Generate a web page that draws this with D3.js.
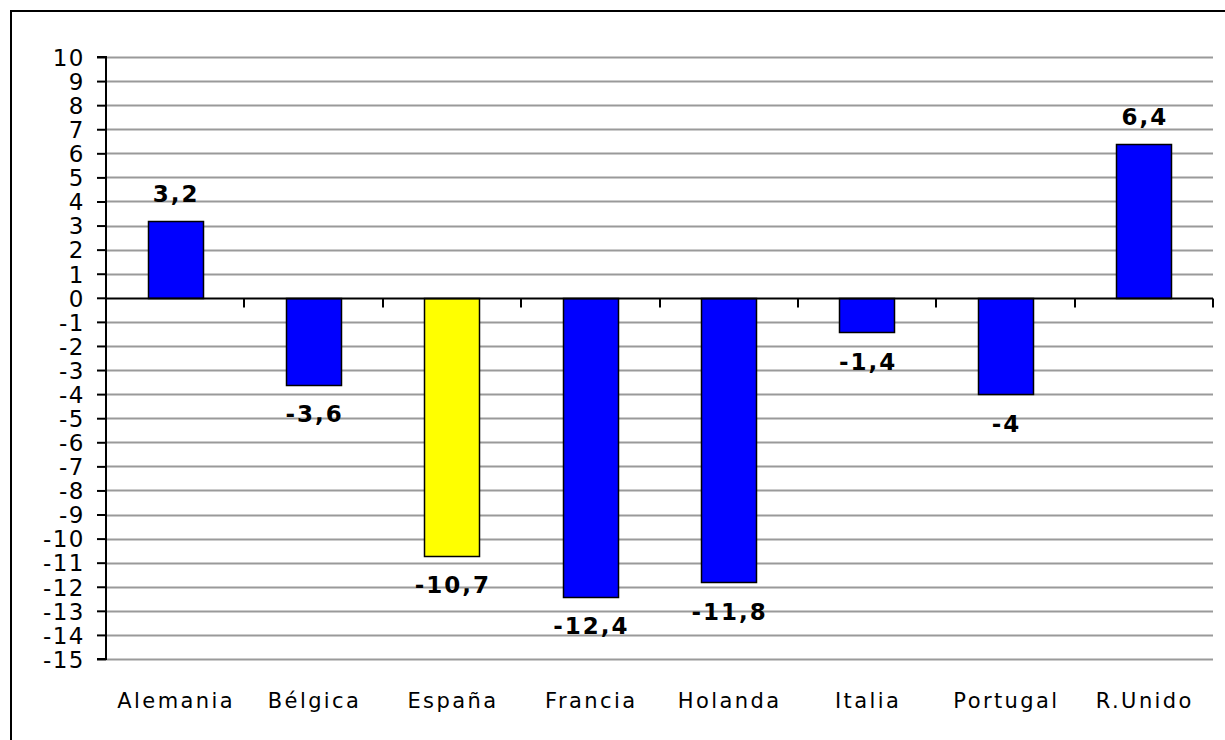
<!DOCTYPE html>
<html>
<head>
<meta charset="utf-8">
<script src="https://cdn.jsdelivr.net/npm/d3@7"></script>
<style>
  html, body { margin: 0; padding: 0; background: #fff; }
  svg { display: block; }
</style>
</head>
<body>
<svg id="chart" width="1225" height="740"></svg>
<script>
const categories = ["Alemania", "Bélgica", "España", "Francia", "Holanda", "Italia", "Portugal", "R.Unido"];
const values = [3.2, -3.6, -10.7, -12.4, -11.8, -1.4, -4, 6.4];
const barColors = ["#0000FF", "#0000FF", "#FFFF00", "#0000FF", "#0000FF", "#0000FF", "#0000FF", "#0000FF"];
const yTicks = d3.range(-15, 11, 1);

const svg = d3.select("#chart");
const W = 1225, H = 740;
const plot = { left: 106, right: 1213, top: 57, bottom: 659 };

// outer frame (only top/left visible in reference)
svg.append("rect")
  .attr("x", 11).attr("y", 11)
  .attr("width", W + 20).attr("height", H + 20)
  .attr("fill", "#fff").attr("stroke", "#000").attr("stroke-width", 2);

const x = d3.scaleBand().domain(categories).range([plot.left, plot.right]).paddingInner(0.6).paddingOuter(0.3);
const xOuter = d3.scaleBand().domain(categories).range([plot.left, plot.right]).padding(0);
const y = d3.scaleLinear().domain([-15, 10]).range([plot.bottom, plot.top]);

// gridlines
svg.append("g").selectAll("line").data(yTicks.filter(d => d !== 0)).join("line")
  .attr("x1", plot.left).attr("x2", plot.right)
  .attr("y1", d => Math.round(y(d)) + 0.5).attr("y2", d => Math.round(y(d)) + 0.5)
  .attr("stroke", "#9a9a9a").attr("stroke-width", 2);

// bars
svg.append("g").selectAll("rect").data(values).join("rect")
  .attr("x", (d, i) => Math.round(x(categories[i])) + 0.5)
  .attr("width", Math.round(x.bandwidth()))
  .attr("y", d => Math.round(y(Math.max(0, d))) + 0.5)
  .attr("height", d => Math.round(Math.abs(y(d) - y(0))))
  .attr("fill", (d, i) => barColors[i])
  .attr("stroke", "#000").attr("stroke-width", 1.5);

// y axis
const yAxis = d3.axisLeft(y).tickValues(yTicks).tickSize(9).tickPadding(12).tickFormat(d => String(d));
const gy = svg.append("g").attr("transform", `translate(${plot.left},0)`).call(yAxis);
gy.select(".domain").attr("stroke", "#000").attr("stroke-width", 2).attr("d", `M-9,${y(10)}H0V${y(-15)}H-9`);
gy.selectAll(".tick line").attr("stroke", "#000").attr("stroke-width", 2);
gy.selectAll(".tick text")
  .attr("font-family", "'DejaVu Sans', Verdana, sans-serif")
  .attr("font-size", 23).attr("fill", "#000")
  .attr("letter-spacing", "1.5px")
  .attr("dy", "0.36em");

// zero axis line
const zeroY = Math.round(y(0)) + 0.5;
svg.append("line")
  .attr("x1", plot.left).attr("x2", plot.right)
  .attr("y1", zeroY).attr("y2", zeroY)
  .attr("stroke", "#000").attr("stroke-width", 2);

// category tick marks on zero line
const boundaries = categories.map(c => xOuter(c)).concat([plot.right]).slice(1);
svg.append("g").selectAll("line").data(boundaries).join("line")
  .attr("x1", d => Math.round(d)).attr("x2", d => Math.round(d))
  .attr("y1", zeroY).attr("y2", zeroY + 9)
  .attr("stroke", "#000").attr("stroke-width", 2);

// category labels
svg.append("g").selectAll("text").data(categories).join("text")
  .attr("x", d => xOuter(d) + xOuter.bandwidth() / 2 + 1)
  .attr("y", 708)
  .attr("text-anchor", "middle")
  .attr("font-family", "'DejaVu Sans', Verdana, sans-serif")
  .attr("font-size", 21)
  .attr("letter-spacing", "2.4px")
  .attr("fill", "#000")
  .text(d => d);

// value labels
const fmt = v => String(v).replace(".", ",");
svg.append("g").selectAll("text").data(values).join("text")
  .attr("x", (d, i) => x(categories[i]) + x.bandwidth() / 2 + 1)
  .attr("y", d => d >= 0 ? y(d) - 19 : y(d) + 38)
  .attr("text-anchor", "middle")
  .attr("font-family", "'DejaVu Sans', Verdana, sans-serif")
  .attr("font-weight", "bold")
  .attr("font-size", 23)
  .attr("letter-spacing", "2px")
  .attr("fill", "#000")
  .text(d => fmt(d));
</script>
</body>
</html>
